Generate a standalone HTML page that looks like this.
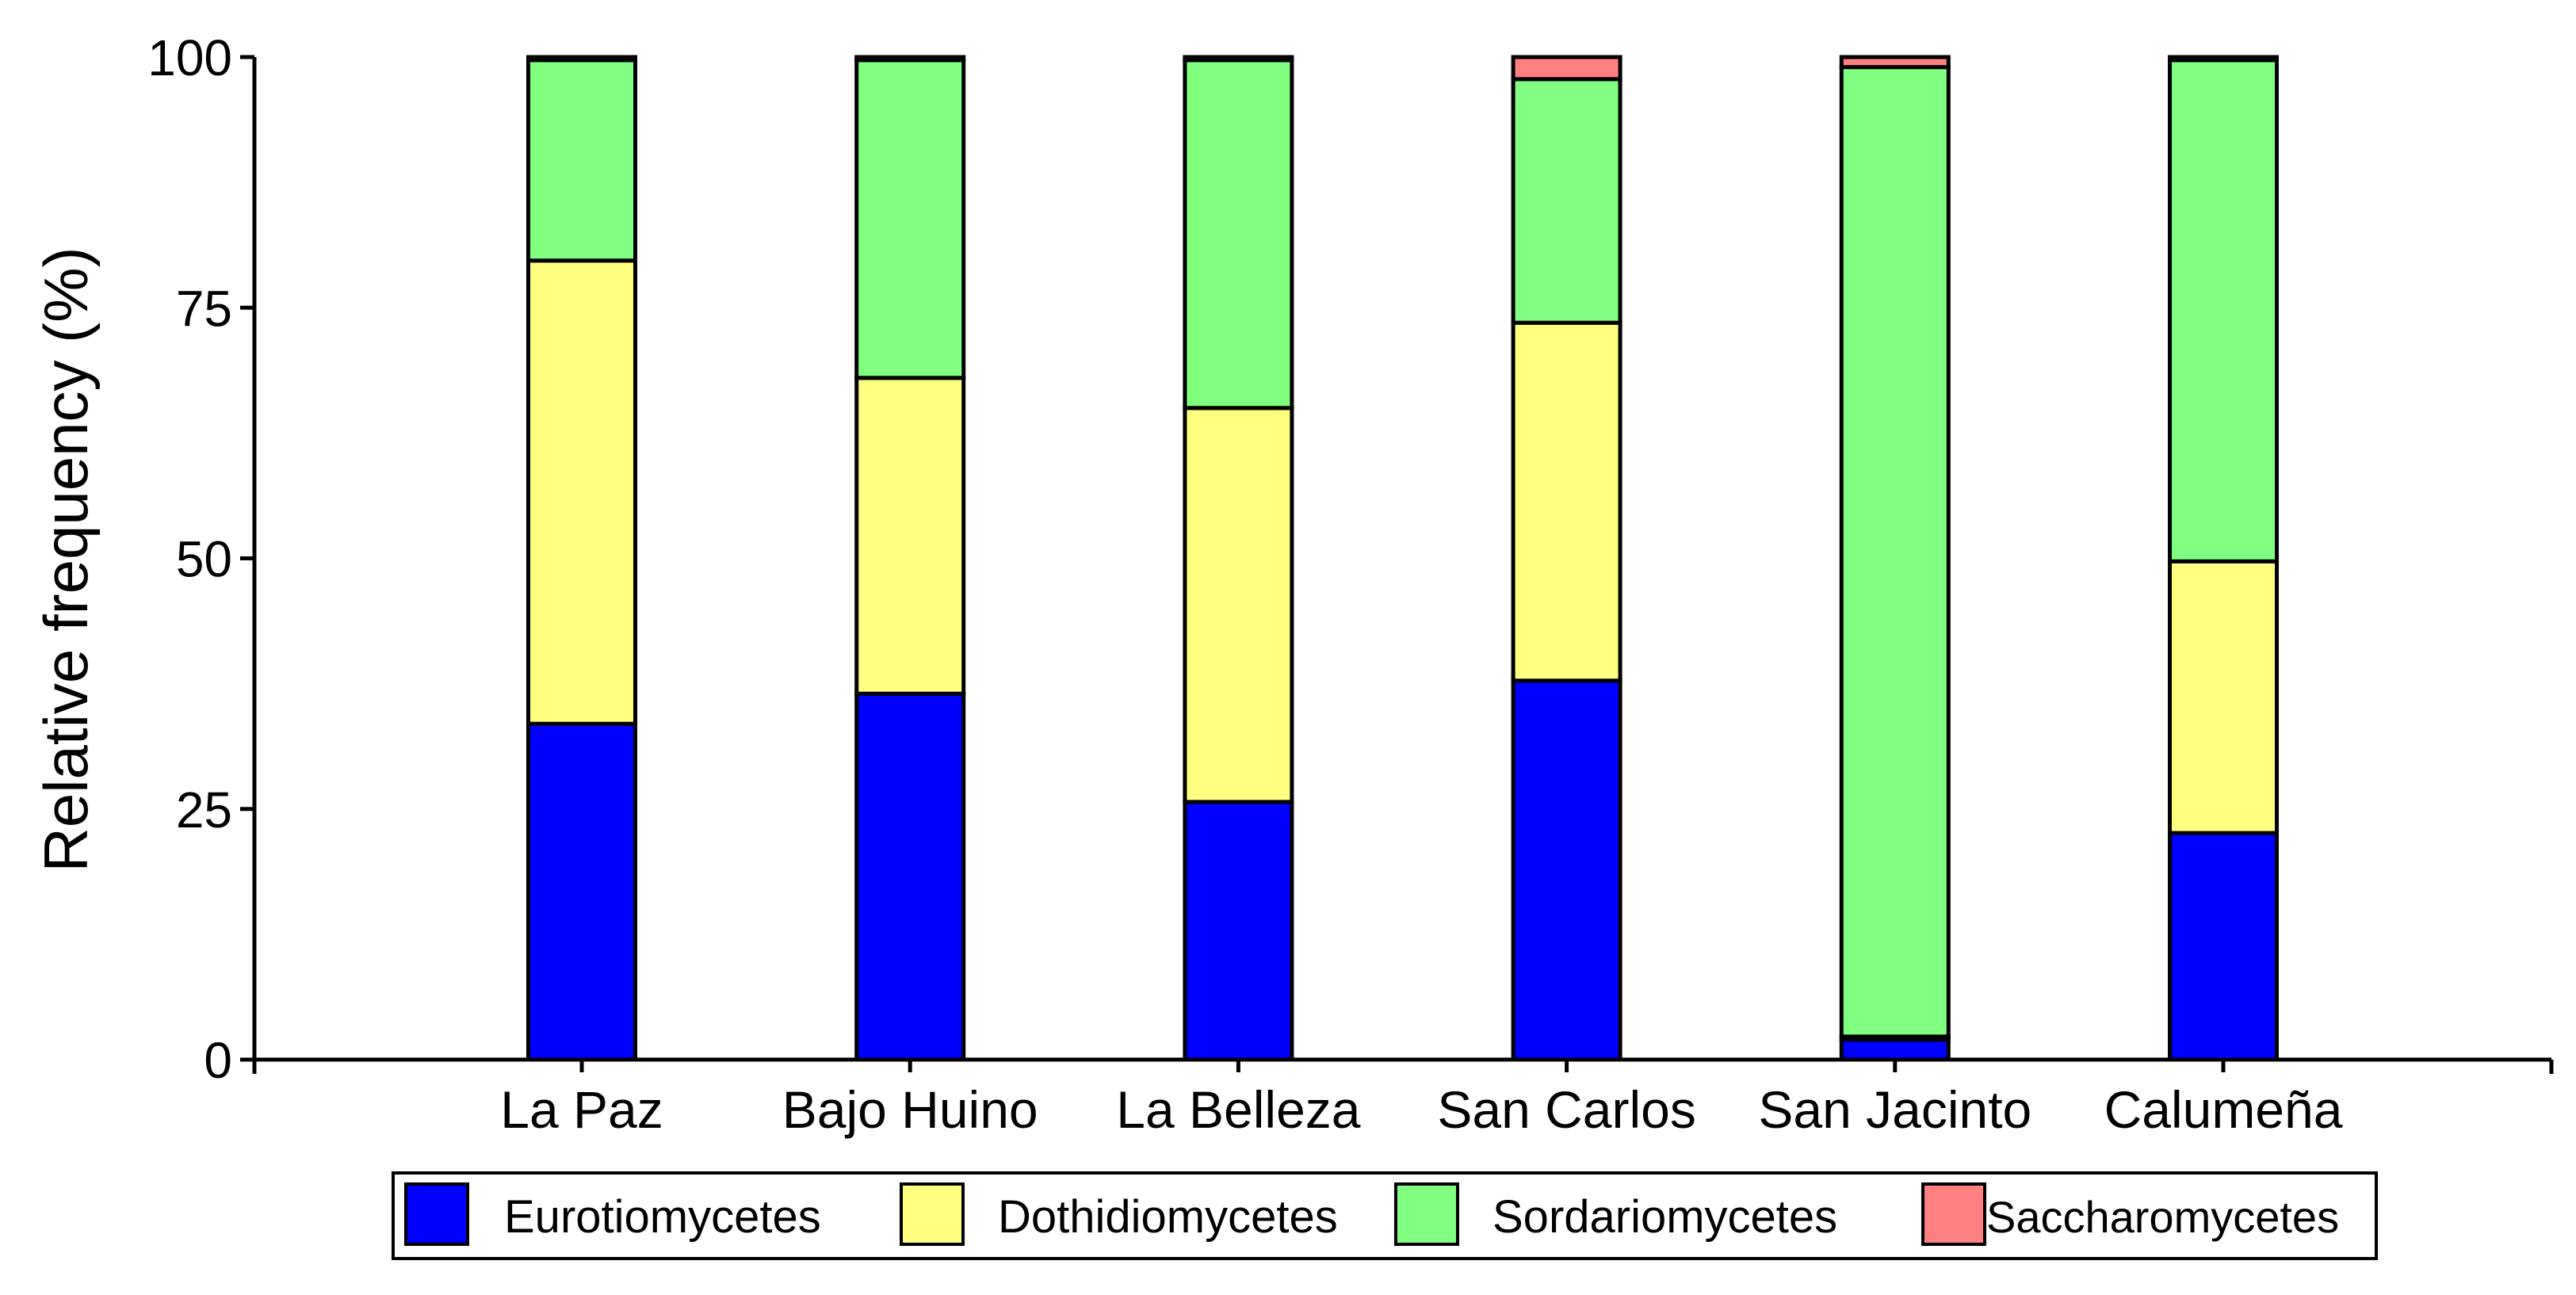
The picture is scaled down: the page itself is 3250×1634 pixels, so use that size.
<!DOCTYPE html>
<html><head><meta charset="utf-8"><style>
html,body{margin:0;padding:0;background:#fff;}
svg{display:block;font-family:"Liberation Sans",Arial,sans-serif;}
</style></head><body>
<svg id="chart" width="3250" height="1634" viewBox="0 0 3250 1634">
<g id="plot"></g>
<text x="0" y="0" transform="translate(110,706) rotate(-90)" text-anchor="middle" font-size="78">Relative frequency (%)</text>
<g>
<rect x="496" y="1480" width="2502" height="108" fill="#fff" stroke="#000" stroke-width="4"/>
<g><rect x="512" y="1494" width="78" height="76" fill="#0000ff" stroke="#000" stroke-width="4"/><text x="636" y="1555" font-size="58">Eurotiomycetes</text></g>
<g><rect x="1137" y="1494" width="78" height="76" fill="#ffff80" stroke="#000" stroke-width="4"/><text x="1259" y="1555" font-size="58">Dothidiomycetes</text></g>
<g><rect x="1761" y="1494" width="78" height="76" fill="#80ff80" stroke="#000" stroke-width="4"/><text x="1883" y="1555" font-size="58">Sordariomycetes</text></g>
<g><rect x="2426" y="1494" width="78" height="76" fill="#ff8080" stroke="#000" stroke-width="4"/><text x="2506" y="1555" font-size="56">Saccharomycetes</text></g>
</g>
</svg>
<script>
const categories = ["La Paz","Bajo Huino","La Belleza","San Carlos","San Jacinto","Calumeña"];
const eurotiomycetes = [33.5, 36.5, 25.7, 37.8, 2.0, 22.6];
const dothidiomycetes = [46.2, 31.5, 39.3, 35.7, 0.3, 27.1];
const sordariomycetes = [20.0, 31.7, 34.7, 24.3, 96.7, 50.0];
const saccharomycetes = [0.3, 0.3, 0.3, 2.2, 1.0, 0.3];
const yTicks = [0, 25, 50, 75, 100];

const NS = "http://www.w3.org/2000/svg";
const plot = document.getElementById("plot");
const X0 = 321, X1 = 3219, Y0 = 1337, Y100 = 72;
const yScale = v => Y0 - (v / 100) * (Y0 - Y100);
const xCenter = i => 734 + i * 414.2;
const barW = 135;
function mk(tag, attrs){const e=document.createElementNS(NS,tag);for(const k in attrs)e.setAttribute(k,attrs[k]);plot.appendChild(e);return e;}

const series = [eurotiomycetes, dothidiomycetes, sordariomycetes, saccharomycetes];
const colors = ["#0000ff","#ffff80","#80ff80","#ff8080"];
const snames = ["eurotiomycetes","dothidiomycetes","sordariomycetes","saccharomycetes"];
categories.forEach((c, i) => {
  let base = 0;
  series.forEach((s, k) => {
    const v = s[i];
    const r = mk("rect", {x: xCenter(i) - barW/2, y: yScale(base + v), width: barW, height: yScale(base) - yScale(base + v), fill: colors[k], stroke: "#000", "stroke-width": 5});
    
    
    base += v;
  });
  const t = mk("text", {x: xCenter(i), y: 1423, "text-anchor": "middle", "font-size": 66});
  t.textContent = c;
  
  
  const tk = mk("line", {x1: xCenter(i), x2: xCenter(i), y1: Y0, y2: Y0 + 16, stroke: "#000", "stroke-width": 5});
  
  
});
const ya = mk("line", {x1: X0, x2: X0, y1: Y100, y2: Y0 + 18, stroke: "#000", "stroke-width": 5});


const xa = mk("line", {x1: X0, x2: X1, y1: Y0, y2: Y0, stroke: "#000", "stroke-width": 5});


const xe = mk("line", {x1: X1, x2: X1, y1: Y0, y2: Y0 + 18, stroke: "#000", "stroke-width": 5});


yTicks.forEach(v => {
  const l = mk("line", {x1: X0 - 18, x2: X0, y1: yScale(v), y2: yScale(v), stroke: "#000", "stroke-width": 5});
  
  
  const t = mk("text", {x: X0 - 28, y: yScale(v) + 23, "text-anchor": "end", "font-size": 64});
  t.textContent = v;
  
  
});
</script>
</body></html>
